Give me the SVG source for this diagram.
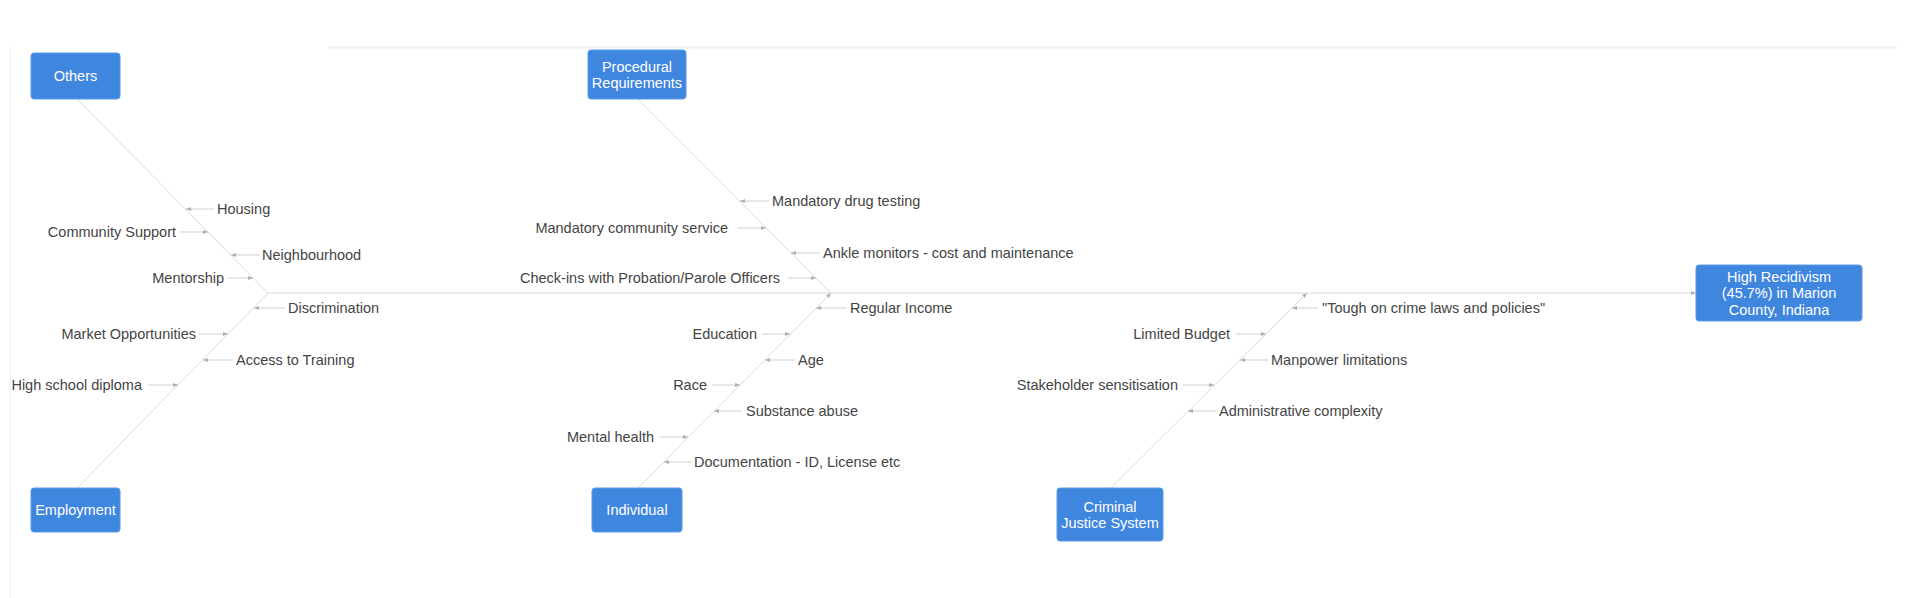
<svg xmlns="http://www.w3.org/2000/svg" width="1920" height="598" viewBox="0 0 1920 598">
<style>
.box{fill:#3f86df;stroke:#5b9ae8;stroke-width:1}
.bt{font-family:"Liberation Sans",Arial,sans-serif;font-size:14.5px;fill:#ffffff;text-anchor:middle;dominant-baseline:central}
.lbl{font-family:"Liberation Sans",Arial,sans-serif;font-size:14.5px;fill:#444444;dominant-baseline:central}
.r{text-anchor:end}
.bone{stroke:#d9d9d9;stroke-width:1;fill:none}
.sub{stroke:#cfcfcf;stroke-width:1;fill:none;marker-end:url(#ah)}
.frame{stroke:#f0f0f0;fill:none}
</style>
<defs>
<marker id="ah" markerUnits="userSpaceOnUse" markerWidth="6" markerHeight="5" refX="5" refY="2.5" orient="auto">
<path d="M0,0.5 L5,2.5 L0,4.5 z" fill="#b0b0b0"/>
</marker>
</defs>
<rect width="1920" height="598" fill="#ffffff"/>
<g id="frame">
<line class="frame" x1="10.5" y1="47" x2="10.5" y2="598" stroke-width="1"/>
<line class="frame" x1="328" y1="47.5" x2="1897" y2="47.5" stroke-width="2"/>
</g>
<g id="connectors">
<line class="bone" x1="268" y1="293" x2="1696" y2="293" style="marker-end:url(#ah)"/>
<line class="bone" x1="77" y1="99" x2="268" y2="293"/>
<line class="bone" x1="77" y1="488" x2="268" y2="293"/>
<line class="bone" x1="638" y1="99" x2="831" y2="293"/>
<line class="bone" x1="638" y1="488" x2="831" y2="293" style="marker-end:url(#ah)"/>
<line class="bone" x1="1111" y1="488" x2="1307" y2="293" style="marker-end:url(#ah)"/>
<line class="sub" x1="214" y1="209" x2="186" y2="209"/>
<line class="sub" x1="180" y1="232" x2="208" y2="232"/>
<line class="sub" x1="260" y1="255" x2="231" y2="255"/>
<line class="sub" x1="228" y1="278" x2="253" y2="278"/>
<line class="sub" x1="285" y1="308" x2="254" y2="308"/>
<line class="sub" x1="199" y1="334" x2="228" y2="334"/>
<line class="sub" x1="233" y1="360" x2="203" y2="360"/>
<line class="sub" x1="148" y1="385" x2="178" y2="385"/>
<line class="sub" x1="769" y1="201" x2="740" y2="201"/>
<line class="sub" x1="737" y1="228" x2="766" y2="228"/>
<line class="sub" x1="820" y1="253" x2="791" y2="253"/>
<line class="sub" x1="788" y1="278" x2="816" y2="278"/>
<line class="sub" x1="847" y1="308" x2="816" y2="308"/>
<line class="sub" x1="762" y1="334" x2="790" y2="334"/>
<line class="sub" x1="795" y1="360" x2="765" y2="360"/>
<line class="sub" x1="712" y1="385" x2="740" y2="385"/>
<line class="sub" x1="742" y1="411" x2="714" y2="411"/>
<line class="sub" x1="660" y1="437" x2="688" y2="437"/>
<line class="sub" x1="692" y1="462" x2="664" y2="462"/>
<line class="sub" x1="1318" y1="308" x2="1292" y2="308"/>
<line class="sub" x1="1236" y1="334" x2="1266" y2="334"/>
<line class="sub" x1="1268" y1="360" x2="1240" y2="360"/>
<line class="sub" x1="1183" y1="385" x2="1214" y2="385"/>
<line class="sub" x1="1216" y1="411" x2="1188" y2="411"/>
</g>
<g id="labels">
<text class="lbl" x="217" y="209">Housing</text>
<text class="lbl r" x="176" y="232">Community Support</text>
<text class="lbl" x="262" y="255">Neighbourhood</text>
<text class="lbl r" x="224" y="278">Mentorship</text>
<text class="lbl" x="288" y="308">Discrimination</text>
<text class="lbl r" x="196" y="334">Market Opportunities</text>
<text class="lbl" x="236" y="360">Access to Training</text>
<text class="lbl r" x="142" y="385">High school diploma</text>
<text class="lbl" x="772" y="201">Mandatory drug testing</text>
<text class="lbl r" x="728" y="228">Mandatory community service</text>
<text class="lbl" x="823" y="253">Ankle monitors - cost and maintenance</text>
<text class="lbl r" x="780" y="278">Check-ins with Probation/Parole Officers</text>
<text class="lbl" x="850" y="308">Regular Income</text>
<text class="lbl r" x="757" y="334">Education</text>
<text class="lbl" x="798" y="360">Age</text>
<text class="lbl r" x="707" y="385">Race</text>
<text class="lbl" x="746" y="411">Substance abuse</text>
<text class="lbl r" x="654" y="437">Mental health</text>
<text class="lbl" x="694" y="462">Documentation - ID, License etc</text>
<text class="lbl" x="1322" y="308">"Tough on crime laws and policies"</text>
<text class="lbl r" x="1230" y="334">Limited Budget</text>
<text class="lbl" x="1271" y="360">Manpower limitations</text>
<text class="lbl r" x="1178" y="385">Stakeholder sensitisation</text>
<text class="lbl" x="1219" y="411">Administrative complexity</text>
</g>
<g id="node-others">
<rect class="box" x="31" y="53" width="89" height="46" rx="3"/>
<text class="bt" x="75.5" y="76">Others</text>
</g>
<g id="node-employment">
<rect class="box" x="31" y="488" width="89" height="44" rx="3"/>
<text class="bt" x="75.5" y="510">Employment</text>
</g>
<g id="node-procedural">
<rect class="box" x="588" y="50" width="98" height="49" rx="3"/>
<text class="bt" x="637" y="67">Procedural</text>
<text class="bt" x="637" y="83">Requirements</text>
</g>
<g id="node-individual">
<rect class="box" x="592" y="488" width="90" height="44" rx="3"/>
<text class="bt" x="637" y="510">Individual</text>
</g>
<g id="node-cjs">
<rect class="box" x="1057" y="488" width="106" height="53" rx="3"/>
<text class="bt" x="1110" y="507">Criminal</text>
<text class="bt" x="1110" y="523">Justice System</text>
</g>
<g id="node-head">
<rect class="box" x="1696" y="265" width="166" height="56" rx="3"/>
<text class="bt" x="1779" y="277">High Recidivism</text>
<text class="bt" x="1779" y="293">(45.7%) in Marion</text>
<text class="bt" x="1779" y="310">County, Indiana</text>
</g>
</svg>
